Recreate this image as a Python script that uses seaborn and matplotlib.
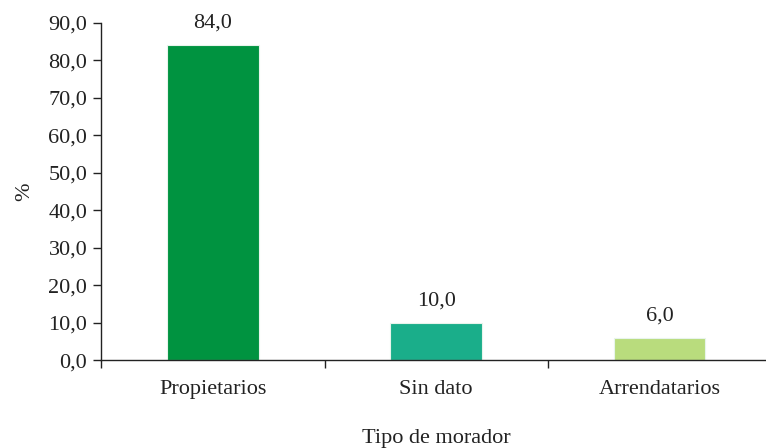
import numpy as np
import seaborn as sns
import pandas as pd
import matplotlib.pyplot as plt
from matplotlib.ticker import FixedLocator, FuncFormatter

categorias = ["Propietarios", "Sin dato", "Arrendatarios"]
porcentajes = [84.0, 10.0, 6.0]
colores = ["#009340", "#1aae8a", "#b9dc7d"]

df = pd.DataFrame({"tipo": categorias, "pct": porcentajes})

sns.set_theme(style="white")
plt.rcParams["font.family"] = ["Liberation Serif", "DejaVu Serif"]
fs = 16

fig = plt.figure(figsize=(7.66, 4.48), dpi=100)
ax = fig.add_axes([0.132, 0.196, 0.875, 0.753])

sns.barplot(data=df, x="tipo", y="pct", hue="tipo", palette=colores,
            width=0.41, legend=False, ax=ax, saturation=1,
            edgecolor="#e8f4ec", linewidth=0.8)

for i, v in enumerate(porcentajes):
    ax.annotate(f"{v:.1f}".replace(".", ","), (i, v), xytext=(0, 9),
                textcoords="offset points", ha="center", va="bottom",
                fontsize=fs, color="#222222")

ax.set_ylim(0, 90)
ax.set_xlim(-0.5, 2.5)
ax.set_yticks(np.arange(0, 91, 10))
ax.yaxis.set_major_formatter(FuncFormatter(lambda y, _: f"{y:.1f}".replace(".", ",")))
ax.tick_params(axis="y", which="major", left=True, length=6, width=1,
               direction="out", labelsize=fs, colors="#222222", pad=4)
ax.tick_params(axis="x", which="major", length=0, labelsize=fs, pad=14,
               colors="#222222")
ax.xaxis.set_minor_locator(FixedLocator([-0.5, 0.5, 1.5, 2.5]))
ax.tick_params(axis="x", which="minor", bottom=True, length=6, width=1,
               direction="out", color="#222222")

for s in ["top", "right"]:
    ax.spines[s].set_visible(False)
for s in ["left", "bottom"]:
    ax.spines[s].set_color("#222222")
    ax.spines[s].set_linewidth(1)

ax.set_xlabel("Tipo de morador", fontsize=fs, labelpad=22, color="#222222")
ax.set_ylabel("%", fontsize=fs, labelpad=10, color="#222222")

fig.savefig("out.png", dpi=100)
